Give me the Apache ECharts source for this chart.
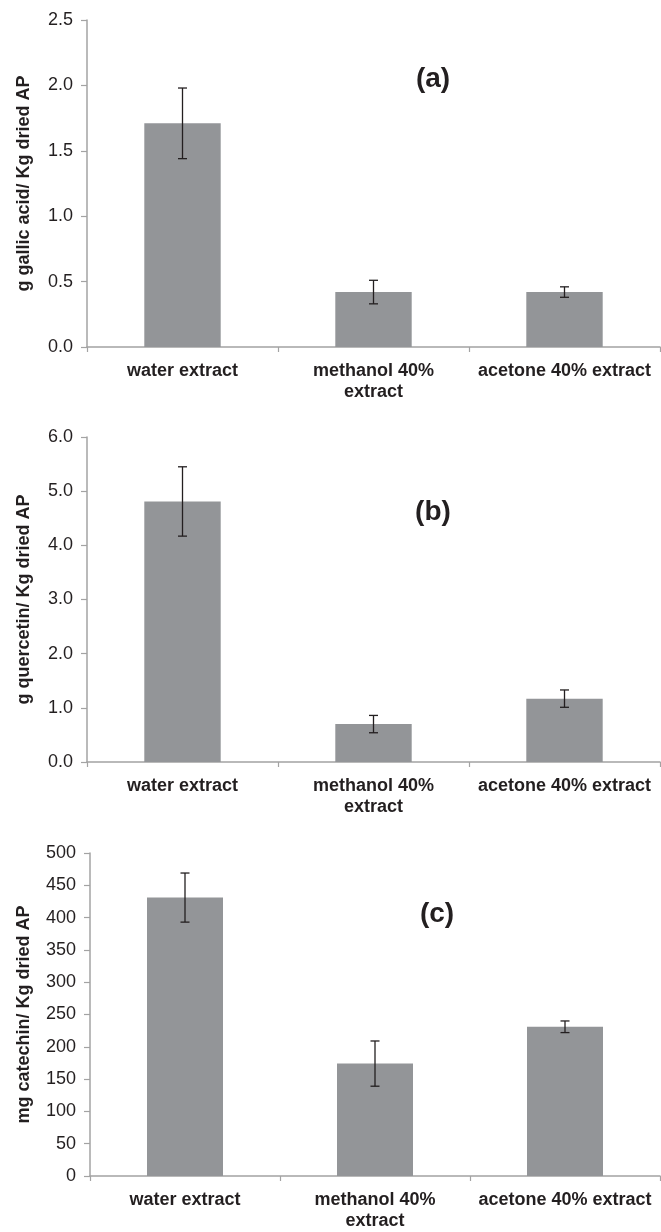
<!DOCTYPE html>
<html>
<head>
<meta charset="utf-8">
<script src="https://cdn.jsdelivr.net/npm/echarts@6/dist/echarts.min.js"></script>
<style>
html,body{margin:0;padding:0;background:#fff;}
#main{width:661px;height:1232px;}
</style>
</head>
<body>
<div id="main"></div>
<script>
var categories = ['water extract', 'methanol 40%\nextract', 'acetone 40% extract'];

var gallicValues = [1.71, 0.42, 0.42];
var gallicErrors = [0.27, 0.09, 0.04];

var quercetinValues = [4.81, 0.70, 1.17];
var quercetinErrors = [0.64, 0.16, 0.16];

var catechinValues = [431, 174, 231];
var catechinErrors = [38, 35, 9];

var yTitles = ['g gallic acid/ Kg dried AP', 'g quercetin/ Kg dried AP', 'mg catechin/ Kg dried AP'];
var panelLabels = ['(a)', '(b)', '(c)'];
var yMax = [2.5, 6.0, 500];
var yInterval = [0.5, 1.0, 50];
var yDecimals = [1, 1, 0];

var FONT = '"Liberation Sans", Arial, Helvetica, sans-serif';
var TEXT = '#231f20';
var AXIS = '#a3a3a3';
var BAR = '#939598';

var grids = [
  {left: 87, right: 1, top: 20, height: 327},
  {left: 87, right: 1, top: 437, height: 325},
  {left: 90, right: 1, top: 853, height: 327}
];
var nameGaps = [54, 54, 57];
var labelPos = [[433, 79], [433, 512], [437, 914]];

var valueSets = [gallicValues, quercetinValues, catechinValues];
var errorSets = [gallicErrors, quercetinErrors, catechinErrors];

var xAxes = [], yAxes = [], series = [], graphics = [];
for (var i = 0; i < 3; i++) {
  (function(i){
    xAxes.push({
      type: 'category', gridIndex: i, data: categories,
      axisLine: {lineStyle: {color: AXIS, width: 1.5}},
      axisTick: {show: true, length: 5, lineStyle: {color: AXIS, width: 1.2}},
      axisLabel: {interval: 0, margin: 14, color: TEXT, fontFamily: FONT, fontWeight: 'bold', fontSize: 18, lineHeight: 21}
    });
    yAxes.push({
      type: 'value', gridIndex: i, min: 0, max: yMax[i], interval: yInterval[i],
      name: yTitles[i], nameLocation: 'middle', nameRotate: 90, nameGap: nameGaps[i],
      nameTextStyle: {color: TEXT, fontFamily: FONT, fontWeight: 'bold', fontSize: 18},
      axisLine: {show: true, lineStyle: {color: AXIS, width: 1.5}},
      axisTick: {show: true, length: 6, lineStyle: {color: AXIS, width: 1.2}},
      splitLine: {show: false},
      axisLabel: {margin: 14, color: TEXT, fontFamily: FONT, fontSize: 18,
        formatter: function(v){ return v.toFixed(yDecimals[i]); }}
    });
    series.push({
      type: 'bar', xAxisIndex: i, yAxisIndex: i, data: valueSets[i],
      barWidth: '40%', itemStyle: {color: BAR}, z: 2, silent: true
    });
    var errData = valueSets[i].map(function(v, k){ return [k, v - errorSets[i][k], v + errorSets[i][k]]; });
    series.push({
      type: 'custom', xAxisIndex: i, yAxisIndex: i, data: errData, z: 5, silent: true,
      encode: {x: 0, y: [1, 2]},
      renderItem: function(params, api){
        var x = api.value(0);
        var lo = api.coord([x, api.value(1)]);
        var hi = api.coord([x, api.value(2)]);
        var hw = 4.5;
        var st = {stroke: TEXT, lineWidth: 1.3};
        return {type: 'group', children: [
          {type: 'line', shape: {x1: lo[0], y1: lo[1], x2: hi[0], y2: hi[1]}, style: st},
          {type: 'line', shape: {x1: lo[0]-hw, y1: lo[1], x2: lo[0]+hw, y2: lo[1]}, style: st},
          {type: 'line', shape: {x1: hi[0]-hw, y1: hi[1], x2: hi[0]+hw, y2: hi[1]}, style: st}
        ]};
      }
    });
    graphics.push({
      type: 'text', x: labelPos[i][0], y: labelPos[i][1], z: 10,
      style: {text: panelLabels[i], fill: TEXT, font: 'bold 28px ' + FONT, align: 'center', verticalAlign: 'middle'}
    });
  })(i);
}

var chart = echarts.init(document.getElementById('main'), null, {renderer: 'canvas'});
chart.setOption({
  backgroundColor: '#ffffff',
  animation: false,
  grid: grids,
  xAxis: xAxes,
  yAxis: yAxes,
  series: series,
  graphic: graphics
});
</script>
</body>
</html>
